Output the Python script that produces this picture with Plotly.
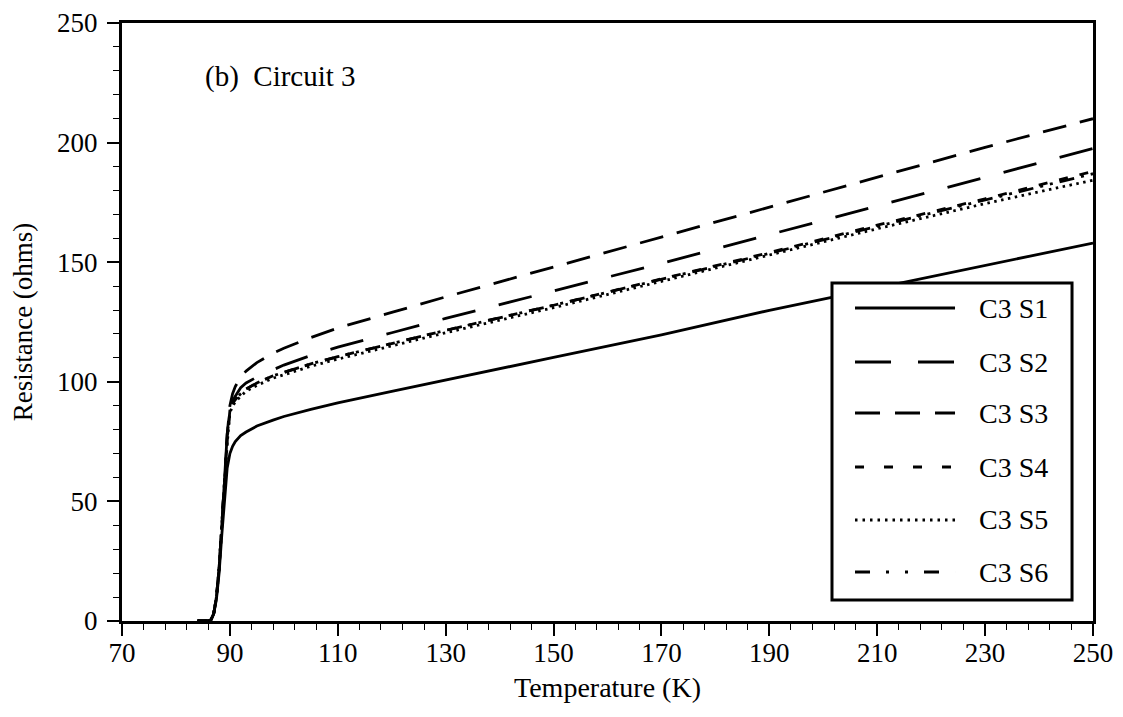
import plotly.graph_objects as go

# ---------------- data ----------------
temps = [84, 86, 86.5, 87, 87.5, 88, 88.5, 89, 89.5, 90, 90.5, 91, 92, 93, 95, 98,
         100, 105, 110, 120, 130, 150, 170, 190, 210, 230, 250]

s1 = [0, 0, 0.5, 3, 9, 20, 36, 52, 64, 70, 73, 75, 77.5, 79, 81.5, 84,
      85.5, 88.5, 91.2, 96, 100.8, 110.2, 119.6, 129.9, 139.3, 148.7, 158]
s2 = [0, 0, 0.5, 3, 10, 22, 40, 60, 78, 88, 92, 94, 97.5, 99.5, 102, 105,
      107, 111, 114.5, 120.5, 126.5, 138, 149.5, 161.5, 173.5, 185.5, 197.5]
s3 = [0, 0, 0.5, 3, 10, 22, 40, 60, 78, 90, 95, 98, 102, 104.5, 108, 112,
      114, 118.5, 122.5, 129, 135.5, 148, 160.5, 173, 185.5, 198, 210]
s4 = [0, 0, 0.5, 3, 10, 22, 40, 60, 76, 88, 91, 92.5, 95, 97, 99.5, 102.5,
      104, 107.5, 110.5, 116, 121.5, 132, 143, 154, 165.5, 176.5, 188]
s5 = [0, 0, 0.5, 3, 10, 22, 40, 58, 74, 87, 90, 91.5, 94, 96, 98.5, 101.5,
      103, 106.5, 109.5, 115, 120.5, 131, 142, 153, 164, 174.5, 184.3]
s6 = [0, 0, 0.5, 3, 10, 22, 40, 60, 76, 88, 91, 92.5, 95, 97, 99.5, 102.5,
      104, 107.5, 110.5, 116, 121.5, 132, 142.8, 153.7, 165, 176, 187]

series_names = ["C3 S1", "C3 S2", "C3 S3", "C3 S4", "C3 S5", "C3 S6"]
series_values = [s1, s2, s3, s4, s5, s6]

x_tick_vals = [70, 90, 110, 130, 150, 170, 190, 210, 230, 250]
y_tick_vals = [0, 50, 100, 150, 200, 250]

panel_label = "(b)\u00a0\u00a0Circuit 3"
x_title = "Temperature (K)"
y_title = "Resistance (ohms)"

# ---------------- styles ----------------
dashes = ["solid", "34px,24px", "24px,14px", "9px,12px", "2.5px,4.5px",
          "15px,7px,3px,7px,3px,7px"]
legend_dashes = ["solid", "36px,27px", "25px,15px", "9px,20px", "2.5px,5px",
                 "15px,16px,3px,16px,3px,16px"]
FONT = "Liberation Serif"

fig = go.Figure()
for name, vals, dash in zip(series_names, series_values, dashes):
    fig.add_trace(go.Scatter(
        x=temps, y=vals, mode="lines", name=name,
        line=dict(color="black", width=2.8, dash=dash),
        showlegend=False,
    ))

# ---------------- manual legend box (long line samples as in original) ----------------
L_X0, L_X1, L_Y0, L_Y1 = 0.7312, 0.9784, 0.0351, 0.5652
fig.add_shape(type="rect", xref="paper", yref="paper",
              x0=L_X0, x1=L_X1, y0=L_Y0, y1=L_Y1,
              line=dict(color="black", width=3), fillcolor="white", layer="above")
row_y = [0.5234, 0.4331, 0.3478, 0.2575, 0.1689, 0.0819]
for name, dash, yy in zip(series_names, legend_dashes, row_y):
    fig.add_shape(type="line", xref="paper", yref="paper",
                  x0=0.7549, x1=0.8579, y0=yy, y1=yy,
                  line=dict(color="black", width=2.8, dash=dash), layer="above")
    fig.add_annotation(xref="paper", yref="paper", x=0.8805, y=yy,
                       xanchor="left", yanchor="middle", showarrow=False,
                       text=name, font=dict(family=FONT, size=28, color="black"))

fig.add_annotation(xref="paper", yref="paper", x=0.0834, y=0.9097,
                   xanchor="left", yanchor="middle", showarrow=False,
                   text=panel_label, font=dict(family=FONT, size=29, color="black"))

axis_common = dict(
    showgrid=False, zeroline=False, showline=True, linecolor="black", linewidth=3,
    mirror=True, ticks="outside", tickcolor="black", tickwidth=1.5, ticklen=12,
    tickfont=dict(family=FONT, size=27, color="black"), automargin=False,
)
fig.update_xaxes(range=[70, 250], tickvals=x_tick_vals, ticklabelstandoff=-6,
                 minor=dict(dtick=4, tick0=70, ticks="outside", ticklen=6,
                            tickcolor="black", tickwidth=1.2),
                 title=dict(text=x_title, font=dict(family=FONT, size=28, color="black"),
                            standoff=10),
                 **axis_common)
fig.update_yaxes(range=[0, 250], tickvals=y_tick_vals, ticklabelstandoff=4,
                 minor=dict(dtick=10, tick0=0, ticks="outside", ticklen=6,
                            tickcolor="black", tickwidth=1.2),
                 title=dict(text=y_title, font=dict(family=FONT, size=27, color="black"),
                            standoff=22),
                 **axis_common)

fig.update_layout(
    width=1123, height=717,
    margin=dict(l=114, r=38, t=15, b=104),
    plot_bgcolor="white", paper_bgcolor="white",
    font=dict(family=FONT, color="black"),
    showlegend=False,
)

fig.write_html("out.html")
